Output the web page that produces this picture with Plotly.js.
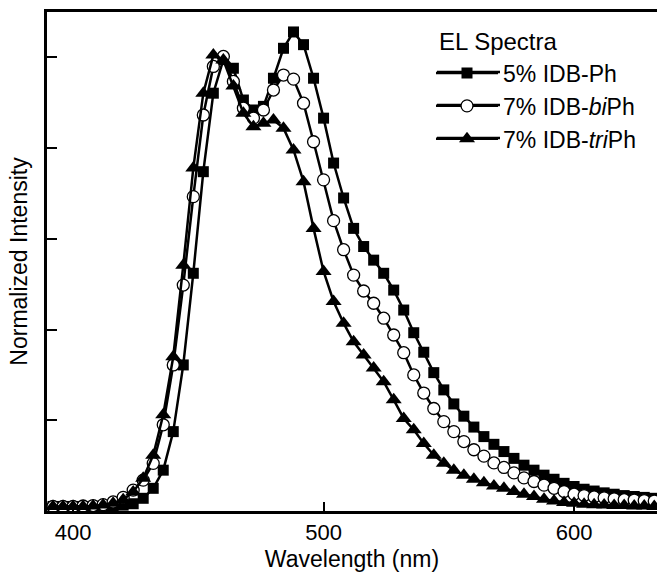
<!DOCTYPE html>
<html>
<head>
<meta charset="utf-8">
<script src="https://cdn.plot.ly/plotly-3.0.1.min.js"></script>
<style>html,body{margin:0;padding:0;background:#fff;}#chart{width:657px;height:572px;}</style>
</head>
<body>
<div id="chart"></div>
<script>
// Wavelength grid (nm)
const wavelength = [392,396,400,404,408,412,416,420,424,428,432,436,440,444,448,452,456,460,464,468,
  472,476,480,484,488,492,496,500,504,508,512,516,520,524,528,532,536,540,544,548,
  552,556,560,564,568,572,576,580,584,588,592,596,600,604,608,612,616,620,624,628,632];

// 5% IDB-Ph (filled squares)
const idbPh = [0.010,0.010,0.010,0.010,0.010,0.011,0.012,0.013,0.016,0.028,0.050,0.090,0.175,0.322,0.524,0.748,0.921,0.995,0.976,0.906,
  0.884,0.892,0.954,1.020,1.056,1.028,0.954,0.866,0.767,0.690,0.623,0.583,0.553,0.524,0.487,0.443,0.393,0.350,0.305,0.267,
  0.236,0.209,0.185,0.164,0.147,0.131,0.116,0.101,0.090,0.079,0.070,0.061,0.054,0.048,0.044,0.040,0.037,0.034,0.032,0.030,0.028];

// 7% IDB-biPh (open circles)
const idbBiPh = [0.010,0.010,0.010,0.011,0.012,0.014,0.020,0.030,0.046,0.068,0.105,0.190,0.322,0.498,0.693,0.873,0.980,1.002,0.947,0.888,
  0.866,0.884,0.928,0.961,0.952,0.899,0.814,0.730,0.640,0.576,0.520,0.485,0.458,0.425,0.388,0.349,0.300,0.260,0.226,0.197,
  0.175,0.153,0.135,0.121,0.106,0.096,0.084,0.073,0.065,0.057,0.050,0.043,0.037,0.034,0.031,0.029,0.027,0.025,0.024,0.023,0.022];

// 7% IDB-triPh (filled triangles)
const idbTriPh = [0.010,0.010,0.010,0.010,0.011,0.013,0.017,0.025,0.042,0.072,0.123,0.212,0.340,0.542,0.756,0.921,1.005,0.994,0.937,0.877,
  0.847,0.855,0.862,0.844,0.796,0.726,0.623,0.528,0.462,0.414,0.373,0.344,0.315,0.285,0.245,0.204,0.179,0.149,0.123,0.105,
  0.090,0.079,0.070,0.062,0.055,0.050,0.043,0.037,0.032,0.026,0.022,0.019,0.017,0.015,0.014,0.013,0.012,0.012,0.011,0.011,0.010];

const seriesNames = ['5% IDB-Ph', '7% IDB-<i>bi</i>Ph', '7% IDB-<i>tri</i>Ph'];
const legendTitle = 'EL Spectra';
const xTicks = [400, 500, 600];
const yTicks = [0.2, 0.4, 0.6, 0.8, 1.0];

const FONT = 'Arial, "Liberation Sans", Helvetica, sans-serif';

const traces = [
  {x: wavelength, y: idbPh, name: seriesNames[0], type: 'scatter', mode: 'lines+markers',
   line: {color: '#000', width: 2.5},
   marker: {symbol: 'square', size: 11, color: '#000'}},
  {x: wavelength, y: idbBiPh, name: seriesNames[1], type: 'scatter', mode: 'lines+markers',
   line: {color: '#000', width: 2.5},
   marker: {symbol: 'circle', size: 12, color: '#fff', line: {color: '#000', width: 1.3}}},
  {x: wavelength, y: idbTriPh, name: seriesNames[2], type: 'scatter', mode: 'lines+markers',
   line: {color: '#000', width: 2.5},
   marker: {symbol: 'triangle-up', size: 14, color: '#000'}}
];

// legend geometry (paper coords): plot spans x 47..657 px, y 12..511 px
const PX = v => (v - 47) / 610;
const PY = v => (511 - v) / 499;
const legendRows = [72, 105, 138];

const legendLines = legendRows.map(r => ({
  type: 'line', xref: 'paper', yref: 'paper',
  x0: PX(437), x1: PX(500), y0: PY(r), y1: PY(r),
  line: {color: '#000', width: 2.5}, layer: 'above'
}));

const layout = {
  width: 657, height: 572,
  margin: {l: 47, r: 0, t: 12, b: 61},
  paper_bgcolor: '#fff', plot_bgcolor: '#fff',
  font: {family: FONT, size: 22, color: '#000'},
  showlegend: true,
  legend: {
    x: PX(431), y: PY(51.5), xanchor: 'left', yanchor: 'top',
    bgcolor: 'rgba(0,0,0,0)', borderwidth: 0,
    font: {family: FONT, size: 23, color: '#000'},
    itemwidth: 62, tracegroupgap: 0
  },
  shapes: legendLines,
  annotations: [{
    text: legendTitle, xref: 'paper', yref: 'paper', x: PX(437), y: PY(42),
    xanchor: 'left', yanchor: 'middle', showarrow: false,
    font: {family: FONT, size: 24, color: '#000'}
  }],
  xaxis: {
    range: [389.6, 633.1],
    tickvals: xTicks, ticktext: xTicks.map(String),
    ticks: 'inside', ticklen: 9, tickwidth: 2, tickcolor: '#000',
    showline: true, linecolor: '#000', linewidth: 3, mirror: true,
    showgrid: false, zeroline: false,
    tickfont: {family: FONT, size: 22, color: '#000'},
    title: {text: 'Wavelength (nm)', font: {family: FONT, size: 23, color: '#000'}, standoff: 7}
  },
  yaxis: {
    range: [0, 1.1],
    tickvals: yTicks, showticklabels: false,
    ticks: 'inside', ticklen: 10, tickwidth: 2, tickcolor: '#000',
    showline: true, linecolor: '#000', linewidth: 3, mirror: false,
    showgrid: false, zeroline: false,
    title: {text: 'Normalized Intensity', font: {family: FONT, size: 23, color: '#000'}, standoff: 10}
  }
};

Plotly.newPlot('chart', traces, layout, {displayModeBar: false, staticPlot: true});
</script>
</body>
</html>
